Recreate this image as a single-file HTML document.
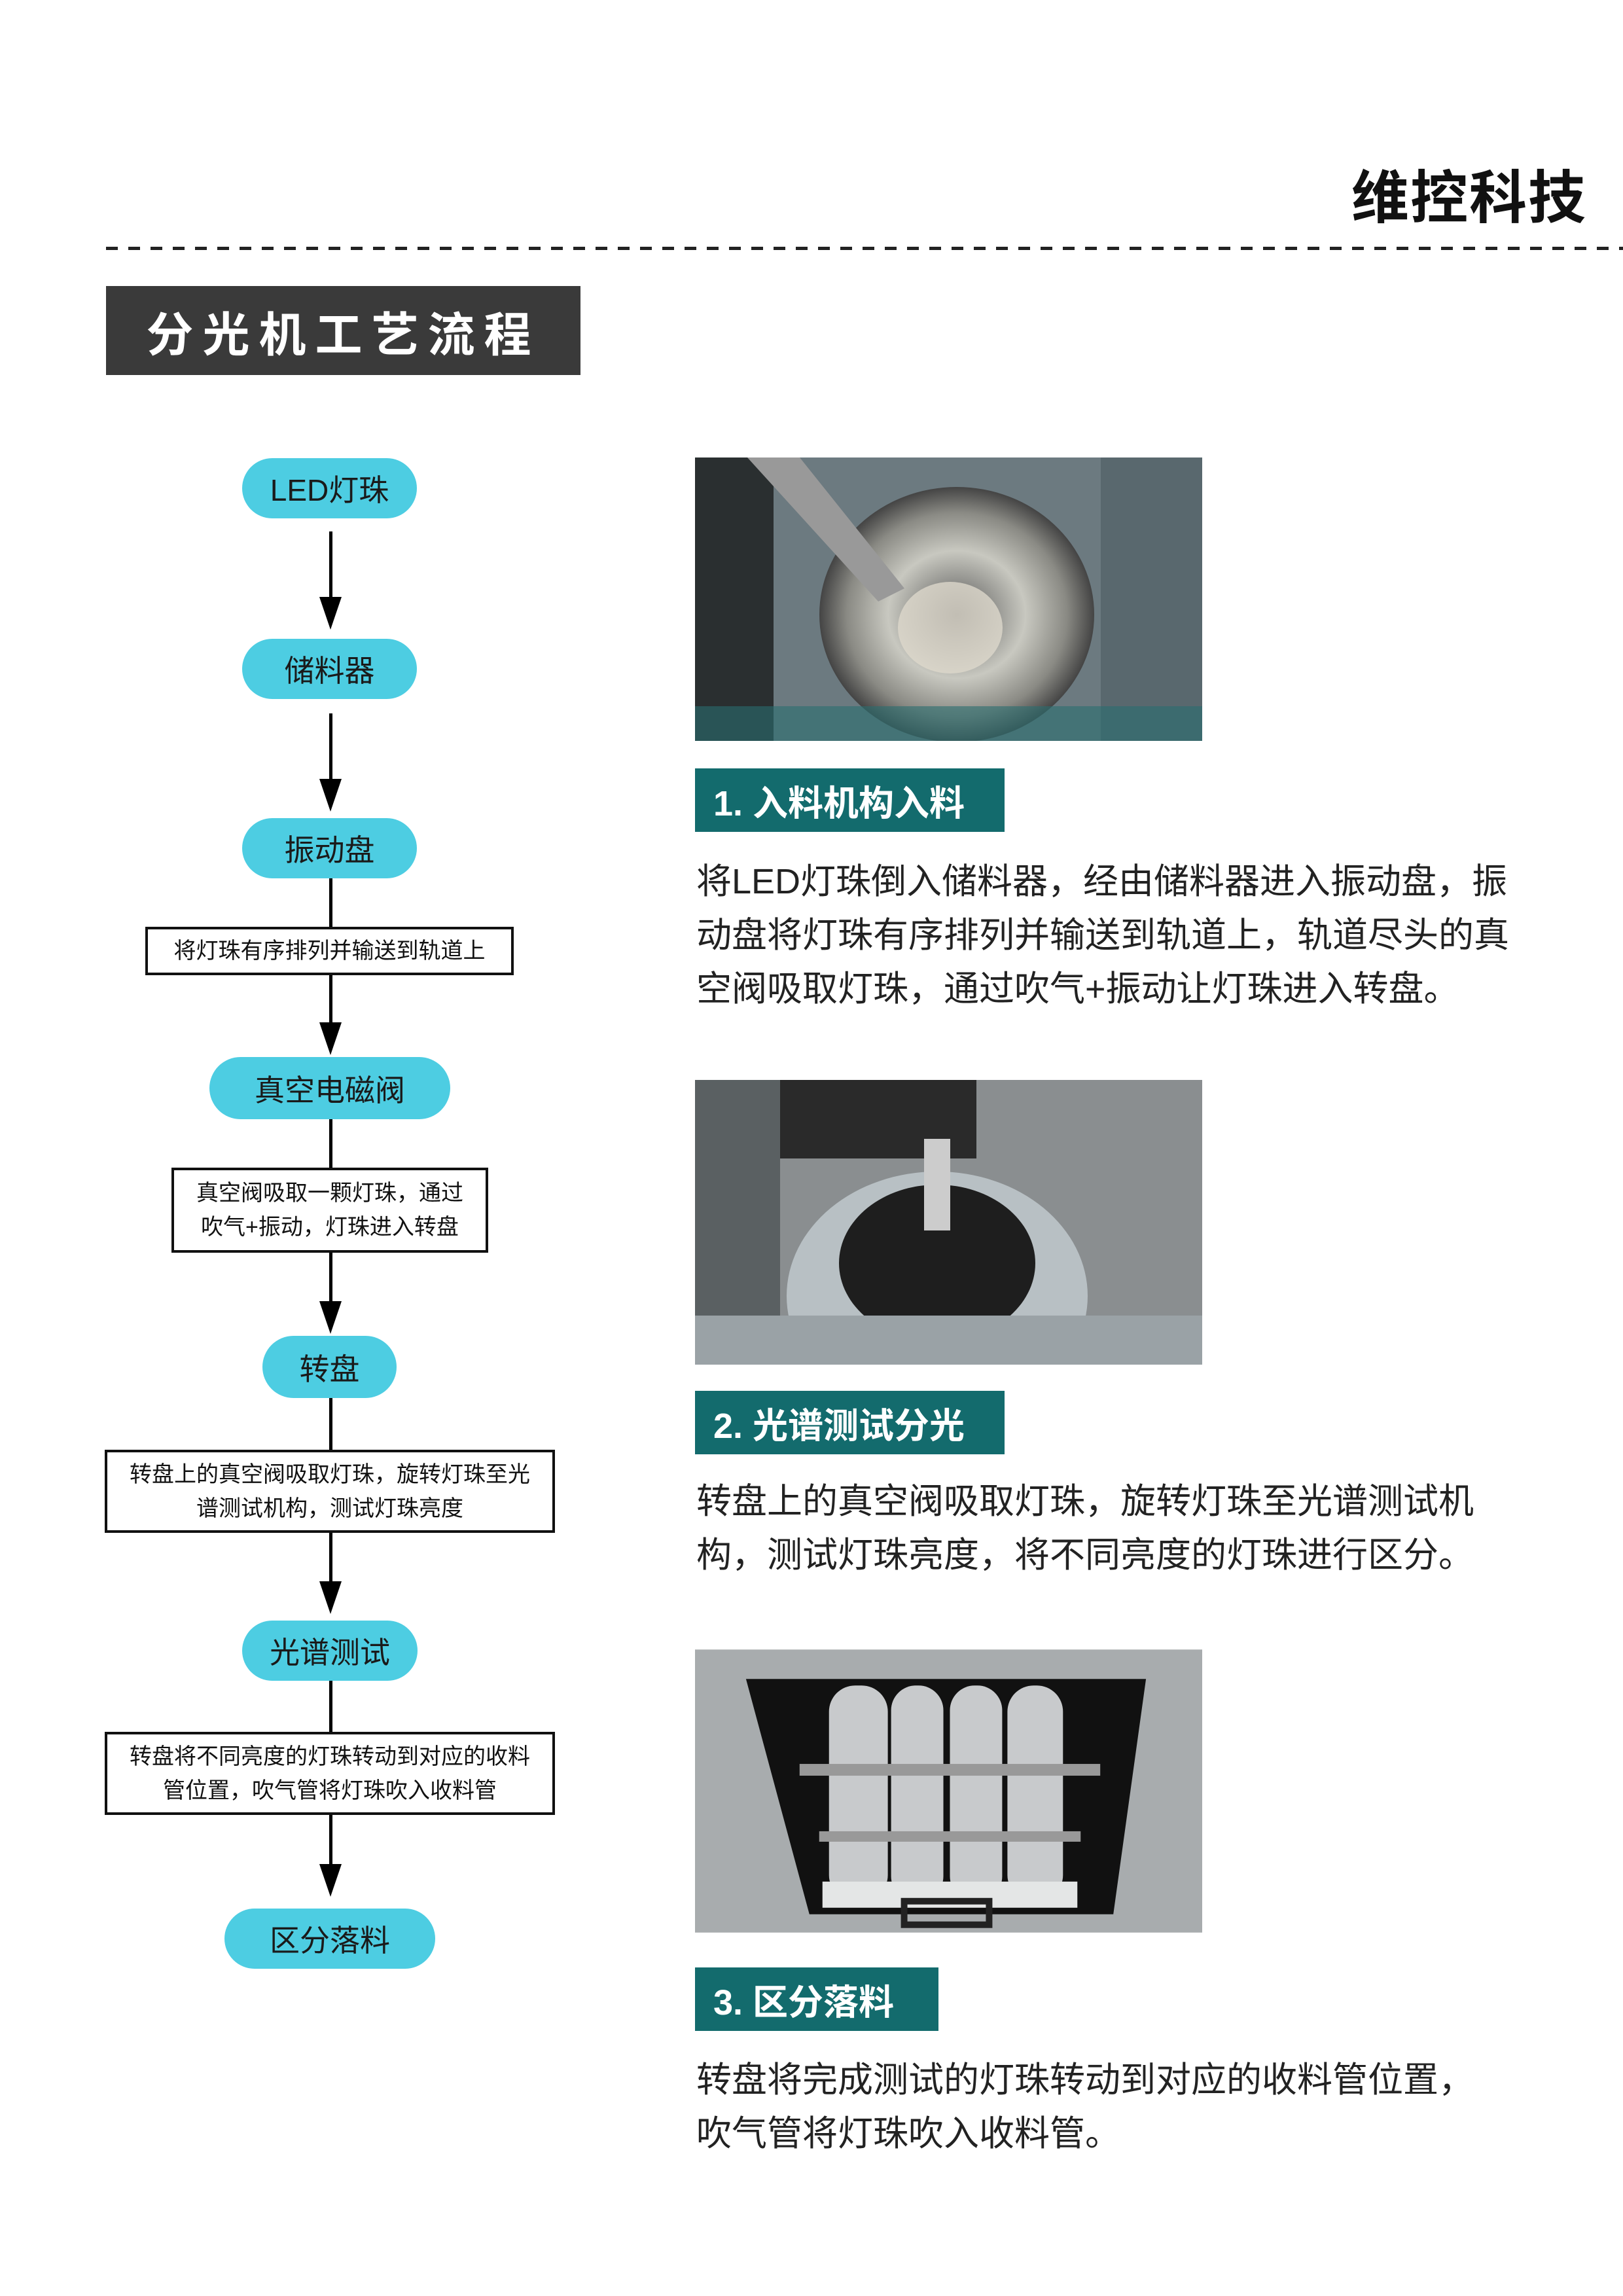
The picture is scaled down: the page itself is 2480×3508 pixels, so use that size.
<!DOCTYPE html>
<html><head><meta charset="utf-8"><style>
*{margin:0;padding:0;box-sizing:border-box}
body{width:2480px;height:3508px;background:#fff;position:relative;overflow:hidden;font-family:"Liberation Sans","Noto Sans CJK SC",sans-serif}
.a{position:absolute}
.pill{position:absolute;background:#4dcde2;border-radius:50px;display:flex;align-items:center;justify-content:center;font-size:46px;color:#1a1a1a}
.box{position:absolute;border:4px solid #111;background:#fff;display:flex;align-items:center;justify-content:center;text-align:center;font-size:34px;line-height:52px;color:#111}
.vl{position:absolute;left:503px;width:5px;background:#000}
.ah{position:absolute;left:488px;width:0;height:0;border-left:17px solid transparent;border-right:17px solid transparent;border-top:50px solid #000}
.lab{position:absolute;left:1062px;background:#136b6d;color:#fff;font-size:54px;font-weight:bold;display:flex;align-items:center;padding-left:28px;height:97px}
.p{position:absolute;left:1064px;font-size:54px;line-height:82px;color:#222;white-space:nowrap}
</style></head><body>
<div class="a" style="left:2065px;top:232px;font-size:88px;font-weight:bold;color:#111;letter-spacing:2px">维控科技</div>
<div class="a" style="left:162px;top:377px;width:2318px;height:5px;background:repeating-linear-gradient(90deg,#222 0 18px,transparent 18px 34px)"></div>
<div class="a" style="left:162px;top:437px;width:725px;height:136px;background:#3a3a3a;color:#fff;font-size:72px;font-weight:bold;display:flex;align-items:center;justify-content:center;letter-spacing:14px">分光机工艺流程</div>

<div class="pill" style="left:370px;top:700px;width:267px;height:92px">LED灯珠</div>
<div class="vl" style="top:812px;height:110px"></div><div class="ah" style="top:912px"></div>
<div class="pill" style="left:370px;top:976px;width:267px;height:92px">储料器</div>
<div class="vl" style="top:1090px;height:110px"></div><div class="ah" style="top:1190px"></div>
<div class="pill" style="left:370px;top:1250px;width:267px;height:92px">振动盘</div>
<div class="vl" style="top:1342px;height:80px"></div>
<div class="box" style="left:222px;top:1416px;width:563px;height:74px">将灯珠有序排列并输送到轨道上</div>
<div class="vl" style="top:1490px;height:80px"></div><div class="ah" style="top:1562px"></div>
<div class="pill" style="left:320px;top:1615px;width:368px;height:95px">真空电磁阀</div>
<div class="vl" style="top:1710px;height:76px"></div>
<div class="box" style="left:262px;top:1784px;width:484px;height:130px">真空阀吸取一颗灯珠，通过<br>吹气+振动，灯珠进入转盘</div>
<div class="vl" style="top:1914px;height:80px"></div><div class="ah" style="top:1988px"></div>
<div class="pill" style="left:401px;top:2041px;width:205px;height:95px">转盘</div>
<div class="vl" style="top:2136px;height:80px"></div>
<div class="box" style="left:160px;top:2215px;width:688px;height:127px">转盘上的真空阀吸取灯珠，旋转灯珠至光<br>谱测试机构，测试灯珠亮度</div>
<div class="vl" style="top:2342px;height:80px"></div><div class="ah" style="top:2416px"></div>
<div class="pill" style="left:370px;top:2476px;width:268px;height:92px">光谱测试</div>
<div class="vl" style="top:2568px;height:80px"></div>
<div class="box" style="left:160px;top:2646px;width:688px;height:127px">转盘将不同亮度的灯珠转动到对应的收料<br>管位置，吹气管将灯珠吹入收料管</div>
<div class="vl" style="top:2773px;height:80px"></div><div class="ah" style="top:2848px"></div>
<div class="pill" style="left:343px;top:2916px;width:322px;height:92px">区分落料</div>

<svg class="a" style="left:1062px;top:699px" width="775" height="433" viewBox="0 0 775 433">
<defs><radialGradient id="g1" cx="0.5" cy="0.5" r="0.5"><stop offset="0" stop-color="#555"/><stop offset="0.5" stop-color="#c8c8c0"/><stop offset="0.8" stop-color="#8a8a84"/><stop offset="1" stop-color="#444"/></radialGradient></defs>
<rect width="775" height="433" fill="#6c7a80"/>
<rect x="0" y="0" width="120" height="433" fill="#2a2f30"/>
<rect x="620" y="0" width="155" height="433" fill="#59686e"/>
<ellipse cx="400" cy="240" rx="210" ry="195" fill="url(#g1)"/>
<ellipse cx="390" cy="260" rx="80" ry="70" fill="#ddd8cc" opacity="0.8"/>
<polygon points="80,0 160,0 320,200 280,220" fill="#999"/>
<rect x="0" y="380" width="775" height="53" fill="#2a6e70" opacity="0.6"/>
</svg>
<div class="lab" style="left:1062px;top:1174px;width:473px">1. 入料机构入料</div>
<div class="p" style="top:1306px">将LED灯珠倒入储料器，经由储料器进入振动盘，振<br>动盘将灯珠有序排列并输送到轨道上，轨道尽头的真<br>空阀吸取灯珠，通过吹气+振动让灯珠进入转盘。</div>

<svg class="a" style="left:1062px;top:1650px" width="775" height="435" viewBox="0 0 775 435">
<rect width="775" height="435" fill="#8a8e90"/>
<rect x="0" y="0" width="130" height="435" fill="#5a6062"/>
<rect x="130" y="0" width="300" height="120" fill="#2a2a2a"/>
<ellipse cx="370" cy="330" rx="230" ry="190" fill="#b8c0c4"/>
<ellipse cx="370" cy="280" rx="150" ry="120" fill="#1e1e1e"/>
<rect x="350" y="90" width="40" height="140" fill="#ccc"/>
<rect x="0" y="360" width="775" height="75" fill="#9aa2a6"/>
</svg>
<div class="lab" style="left:1062px;top:2125px;width:473px">2. 光谱测试分光</div>
<div class="p" style="top:2253px">转盘上的真空阀吸取灯珠，旋转灯珠至光谱测试机<br>构，测试灯珠亮度，将不同亮度的灯珠进行区分。</div>

<svg class="a" style="left:1062px;top:2520px" width="775" height="433" viewBox="0 0 776 433">
<rect width="776" height="433" fill="#a8acae"/>
<polygon points="78,45 690,45 640,405 175,405" fill="#111"/>
<g fill="#c8cacc"><rect x="205" y="55" width="90" height="330" rx="40"/><rect x="300" y="55" width="80" height="330" rx="38"/><rect x="390" y="55" width="80" height="330" rx="38"/><rect x="478" y="55" width="85" height="330" rx="40"/></g>
<rect x="160" y="175" width="460" height="18" fill="#999"/>
<rect x="190" y="278" width="400" height="16" fill="#999"/>
<rect x="195" y="355" width="390" height="40" fill="#e4e6e6"/>
<rect x="320" y="385" width="130" height="36" fill="none" stroke="#222" stroke-width="10"/>
</svg>
<div class="lab" style="left:1062px;top:3006px;width:372px">3. 区分落料</div>
<div class="p" style="top:3137px">转盘将完成测试的灯珠转动到对应的收料管位置，<br>吹气管将灯珠吹入收料管。</div>
</body></html>
